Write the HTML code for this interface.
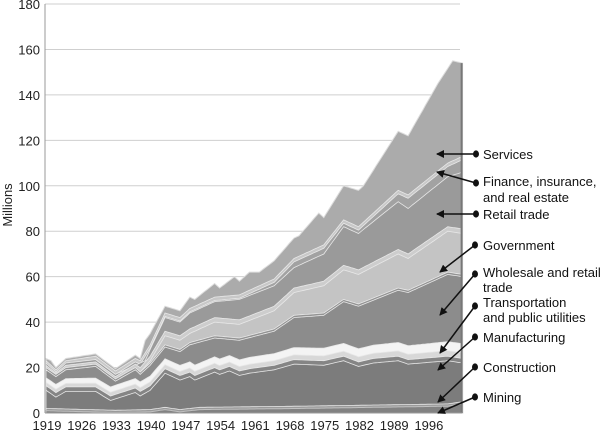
<!DOCTYPE html>
<html><head><meta charset="utf-8"><style>
html,body{margin:0;padding:0;background:#fff;}
svg{display:block;font-family:"Liberation Sans",sans-serif;}
</style></head><body>
<svg id="s" width="600" height="433" viewBox="0 0 600 433" xmlns="http://www.w3.org/2000/svg">
<defs><marker id="ah" markerWidth="8" markerHeight="8" refX="7" refY="4" orient="auto" markerUnits="userSpaceOnUse"><path d="M0,0 L8,4 L0,8 z" fill="#111"/></marker></defs>
<g id="grid" stroke="#cfcfcf" stroke-width="1"></g>
<g id="areas"></g>
<line x1="45" y1="4" x2="45" y2="413" stroke="#999"/>
<line x1="45" y1="413" x2="462" y2="413" stroke="#999"/>
<g id="yl" font-size="13" fill="#222" text-anchor="end"></g>
<g id="xl" font-size="13" fill="#222" text-anchor="middle"></g>
<text transform="translate(12,205) rotate(-90)" font-size="13" fill="#222" text-anchor="middle">Millions</text>
<g id="ann" font-size="13" fill="#111"></g>
</svg>
<script>
(function(){
var NS="http://www.w3.org/2000/svg";
function X(y){return 46+(y-1919)*4.96;}
function Y(v){return 413-v*2.272;}
function el(p,t,a,txt){var e=document.createElementNS(NS,t);for(var k in a)e.setAttribute(k,a[k]);if(txt)e.textContent=txt;document.getElementById(p).appendChild(e);return e;}
for(var v=0;v<=180;v+=20){if(v>0)el("grid","line",{x1:45,x2:460,y1:Y(v),y2:Y(v)});el("yl","text",{x:40,y:Y(v)+5},String(v));}
for(var y=1919;y<=1996;y+=7)el("xl","text",{x:X(y)+1,y:430},String(y));
function interp(pts,yr){for(var i=0;i<pts.length-1;i++){if(yr>=pts[i][0]&&yr<=pts[i+1][0]){var t=(yr-pts[i][0])/(pts[i+1][0]-pts[i][0]);return pts[i][1]+t*(pts[i+1][1]-pts[i][1]);}}return pts[pts.length-1][1];}
var total=[[1919,24],[1920,23],[1921,20],[1923,24],[1929,26],[1933,19.5],[1937,25.5],[1938,24],[1939,32],[1940,35],[1943,47],[1946,45],[1948,51],[1949,50],[1953,57],[1954,55],[1957,60],[1958,58],[1960,62],[1962,62],[1965,67],[1969,77],[1970,78],[1974,88],[1975,86],[1979,100],[1982,98],[1983,100],[1990,124],[1992,122],[1998,145],[2001,155],[2003,154]];
var fire=[[1919,23],[1921,19],[1923,23],[1929,25],[1933,18.5],[1937,24],[1938,23],[1940,30],[1943,44],[1946,42],[1948,46],[1953,51],[1958,52],[1965,59],[1969,68],[1975,74],[1979,85],[1982,82],[1990,98],[1992,96],[2000,110],[2003,113]];
var ret=[[1919,22],[1921,18],[1923,22],[1929,23.5],[1933,17],[1938,22],[1939,23],[1940,28],[1943,42],[1946,40],[1948,44],[1953,49],[1958,50],[1965,56],[1969,64],[1975,70],[1979,82],[1982,79],[1990,93],[1992,90],[2000,104],[2003,106]];
var gov=[[1919,21],[1921,17.5],[1923,21],[1929,22.5],[1933,16],[1937,21.5],[1938,20],[1940,25],[1943,36],[1946,34],[1948,37],[1953,42],[1958,41],[1965,47],[1969,55],[1975,58],[1979,65],[1982,63],[1990,72],[1992,70],[2000,82],[2003,81]];
var whl=[[1919,20],[1921,17],[1923,20],[1929,21.5],[1933,15],[1937,20],[1938,18],[1940,22],[1943,30],[1946,28],[1948,31],[1953,34],[1958,33],[1965,37],[1969,43],[1975,44],[1979,50],[1982,48],[1990,55],[1992,54],[2000,62],[2003,61]];
var b2=[[1919,12],[1921,9],[1923,11.5],[1929,11.5],[1932,7.5],[1937,11],[1938,9.5],[1940,12],[1943,19.5],[1946,16.5],[1948,18],[1949,16.5],[1953,20],[1954,19],[1956,20.5],[1958,18.5],[1960,19.5],[1965,21],[1969,23.5],[1975,23],[1979,25],[1982,22.5],[1985,24],[1990,25],[1992,23.5],[2000,25],[2003,24]];
var b1=[[1919,2],[1933,1.2],[1940,1.5],[1943,2.5],[1946,1.5],[1950,2.5],[1970,3],[1985,3.5],[2000,4],[2003,5]];
function shift(p,d,f){return p.map(function(q){return [q[0],q[1]+d+(f?f*(q[0]-1919)/84:0)];});}
function area(pts,fill,stroke){var d="M"+X(1919)+","+Y(0);for(var yr=1919;yr<=2003;yr+=0.5){d+=" L"+X(yr).toFixed(1)+","+Y(interp(pts,yr)).toFixed(1);}d+=" L"+X(2003)+","+Y(0)+"Z";el("areas","path",{d:d,fill:fill,stroke:stroke||"#e8e8e8","stroke-width":stroke?1:0.8});}
area(total,"#ababab","#dcdcdc");
area(fire,"#c8c8c8");
area(shift(fire,-1.5),"#a2a2a2");
area(ret,"#9a9a9a");
area(gov,"#cdcdcd");
area(shift(gov,-2),"#c4c4c4");
area(whl,"#939393");
area(shift(whl,-1),"#8c8c8c");
area(shift(b2,3.5,3),"#f4f4f4");
area(shift(b2,1.5,1),"#d8d8d8");
area(b2,"#858585");
area(shift(b2,-2),"#7c7c7c");
area(b1,"#9a9a9a");
area(shift(b1,-1),"#828282","#c0c0c0");
el("areas","rect",{x:X(2003)-2,y:Y(154),width:2,height:Y(0)-Y(154),fill:"#777"});
var A=[["Services",476,154,437,154,[154]],["Finance, insurance,|and real estate",476,183,437,172,[181,197]],["Retail trade",476,214,437,214,[214]],["Government",475,245,440,272,[245]],["Wholesale and retail|trade",475,274,440,315,[272,287]],["Transportation|and public utilities",475,306,440,353,[302,317]],["Manufacturing",475,337,438,370,[337]],["Construction",475,367,438,402,[367]],["Mining",475,397,438,413,[397]]];
A.forEach(function(a){el("ann","line",{x1:a[1],y1:a[2],x2:a[3],y2:a[4],stroke:"#111","stroke-width":1.5,"marker-end":"url(#ah)"});el("ann","ellipse",{cx:a[1],cy:a[2],rx:3,ry:3.6,fill:"#111"});var L=a[0].split("|");L.forEach(function(t,i){el("ann","text",{x:483,y:a[5][i]+5},t);});});
})();
</script>
</body></html>
